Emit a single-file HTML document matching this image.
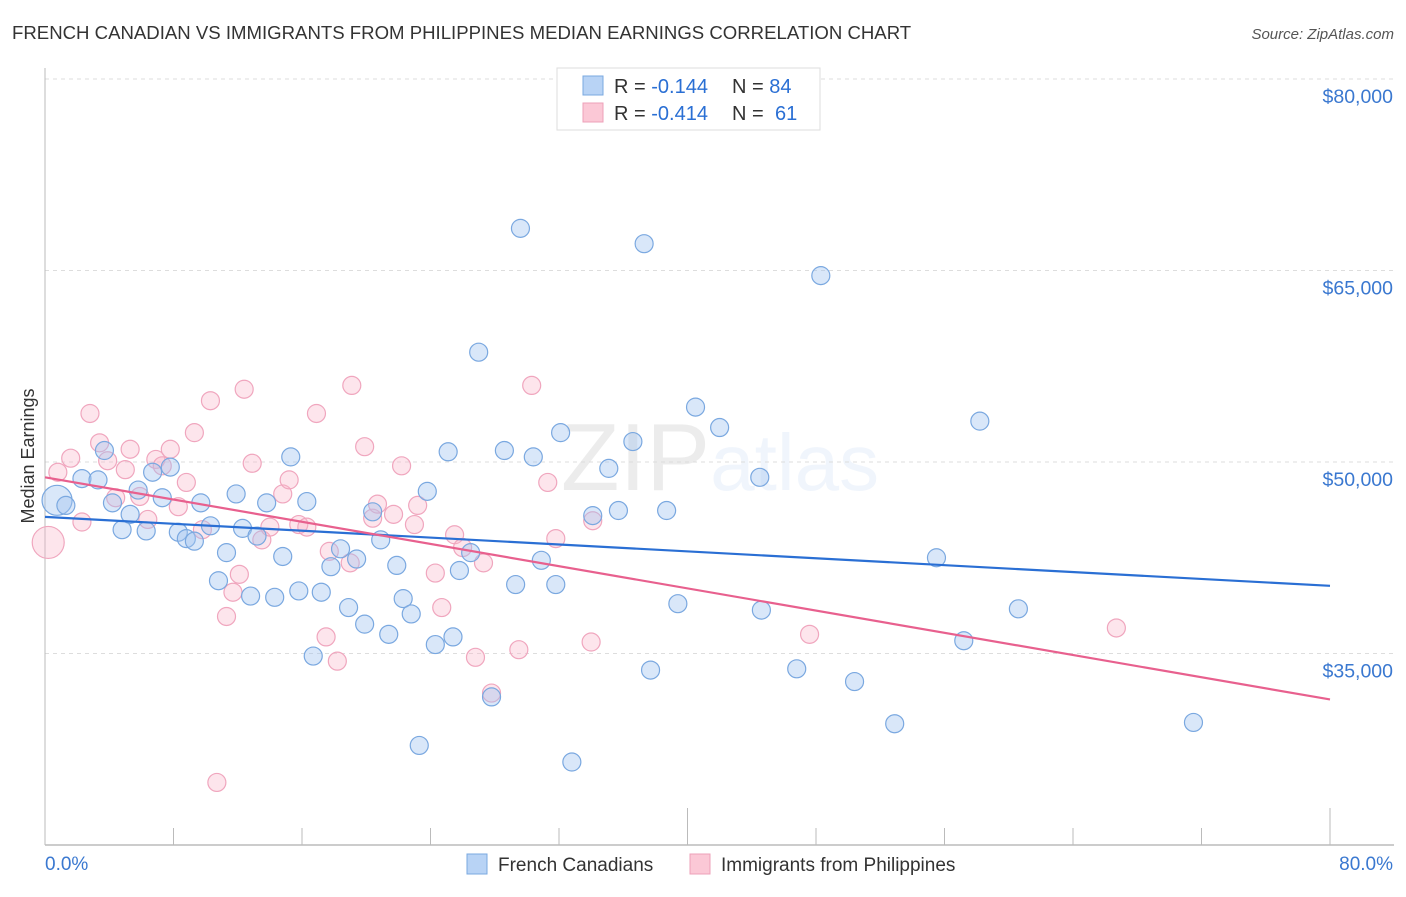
<!DOCTYPE html>
<html><head><meta charset="utf-8">
<style>
body{margin:0;background:#fff;font-family:"Liberation Sans",sans-serif;}
svg text{font-family:"Liberation Sans",sans-serif;}
</style></head>
<body>
<svg id="chart" width="1406" height="892" viewBox="0 0 1406 892">
<text x="12" y="39" font-size="18.6" fill="#333">FRENCH CANADIAN VS IMMIGRANTS FROM PHILIPPINES MEDIAN EARNINGS CORRELATION CHART</text>
<text x="1394" y="39" font-size="15" fill="#555" text-anchor="end" font-style="italic">Source: ZipAtlas.com</text>
<text x="720" y="490" font-size="96" fill="#000" opacity="0.07" text-anchor="middle" font-family="Liberation Serif"><tspan>ZIP</tspan><tspan fill="#2a6fd4" font-family="Liberation Sans" font-size="80" opacity="0.9">atlas</tspan></text>
<g id="grid"></g>
<g id="axes"></g>
<g id="pts"></g>
<g id="lines"></g>
<text transform="translate(34,456) rotate(-90)" font-size="18" fill="#333" text-anchor="middle">Median Earnings</text>
<g>
<rect x="557" y="68" width="263" height="62" fill="#fff" stroke="#ddd"/>
<rect x="583" y="76" width="20" height="19" fill="#b8d3f5" stroke="#7aa8e0"/>
<rect x="583" y="103" width="20" height="19" fill="#fbc8d6" stroke="#eea0b8"/>
<text x="614" y="93" font-size="20" fill="#333">R = <tspan fill="#2a6fd4">-0.144</tspan><tspan x="732">N = </tspan><tspan fill="#2a6fd4">84</tspan></text>
<text x="614" y="120" font-size="20" fill="#333">R = <tspan fill="#2a6fd4">-0.414</tspan><tspan x="732">N = </tspan><tspan fill="#2a6fd4" x="775">61</tspan></text>
</g>
<g>
<rect x="467" y="854" width="20" height="20" fill="#b8d3f5" stroke="#7aa8e0"/>
<text x="498" y="871" font-size="19" fill="#333">French Canadians</text>
<rect x="690" y="854" width="20" height="20" fill="#fbc8d6" stroke="#eea0b8"/>
<text x="721" y="871" font-size="19" fill="#333">Immigrants from Philippines</text>
</g>
</svg>
<script>
const yTicks=[35000,50000,65000,80000];
const yTickLabels=["$35,000","$50,000","$65,000","$80,000"];
const xTicks=[0,8,16,24,32,40,48,56,64,72,80];
const blueX=[0.75,1.3,2.3,3.3,3.7,4.2,4.8,5.3,5.8,6.3,6.7,7.3,7.8,8.3,8.8,9.3,9.7,10.3,10.8,11.3,11.9,12.3,12.8,13.2,13.8,14.3,14.8,15.3,15.8,16.3,16.7,17.2,17.8,18.4,18.9,19.4,19.9,20.4,20.9,21.4,21.9,22.3,22.8,23.3,23.8,24.3,25.1,25.4,25.8,26.5,27.0,27.8,28.6,29.3,29.6,30.4,30.9,31.8,32.1,32.8,34.1,35.1,35.7,36.6,37.3,37.7,38.7,39.4,40.5,42.0,44.5,44.6,46.8,48.3,50.4,52.9,55.5,57.2,58.2,60.6,71.5];
const blueY=[47.0,46.6,48.7,48.6,50.9,46.8,44.7,45.9,47.8,44.6,49.2,47.2,49.6,44.5,44.0,43.8,46.8,45.0,40.7,42.9,47.5,44.8,39.5,44.2,46.8,39.4,42.6,50.4,39.9,46.9,34.8,39.8,41.8,43.2,38.6,42.4,37.3,46.1,43.9,36.5,41.9,39.3,38.1,27.8,47.7,35.7,50.8,36.3,41.5,42.9,58.6,31.6,50.9,40.4,68.3,50.4,42.3,40.4,52.3,26.5,45.8,49.5,46.2,51.6,67.1,33.7,46.2,38.9,54.3,52.7,48.8,38.4,33.8,64.6,32.8,29.5,42.5,36.0,53.2,38.5,29.6];
const pinkX=[0.2,0.8,1.6,2.3,2.8,3.4,3.9,4.4,5.0,5.3,5.9,6.4,6.9,7.3,7.8,8.3,8.8,9.3,9.8,10.3,10.7,11.3,11.7,12.1,12.4,12.9,13.5,14.0,14.8,15.2,15.8,16.3,16.9,17.5,17.7,18.2,19.0,19.1,19.9,20.4,20.7,21.7,22.2,23.0,23.2,24.3,24.7,25.5,26.0,26.8,27.3,27.8,29.5,30.3,31.3,31.8,34.0,34.1,47.6,66.7];
const pinkY=[43.7,49.2,50.3,45.3,53.8,51.5,50.1,47.2,49.4,51.0,47.3,45.5,50.2,49.7,51.0,46.5,48.4,52.3,44.7,54.8,24.9,37.9,39.8,41.2,55.7,49.9,43.9,44.9,47.5,48.6,45.1,44.9,53.8,36.3,43.0,34.4,42.1,56.0,51.2,45.6,46.7,45.9,49.7,45.1,46.6,41.3,38.6,44.3,43.3,34.7,42.1,31.9,35.3,56.0,48.4,44.0,35.9,45.4,36.5,37.0];
const blueTrend=[45.7,40.3];
const pinkTrend=[48.8,31.4];
const NS="http://www.w3.org/2000/svg";
const X=v=>45+v/80*1285;
const Y=v=>462-(v-50000)*191.5/15000;
const Yk=v=>Y(v*1000);
function mk(tag,attrs,parent){const e=document.createElementNS(NS,tag);for(const k in attrs)e.setAttribute(k,attrs[k]);document.getElementById(parent).appendChild(e);return e;}
yTicks.forEach((t,i)=>{
 const g=mk('line',{x1:45,x2:1394,y1:Y(t),y2:Y(t),stroke:'#ddd','stroke-dasharray':'4,4'},'grid');
 
 
 const l=mk('text',{x:1393,y:Y(t)+24,'font-size':19.5,fill:'#3a78d0','text-anchor':'end'},'axes');
 l.textContent=yTickLabels[i];
 
 
});
const ax=mk('line',{x1:45,x2:45,y1:68,y2:845,stroke:'#bbb'},'axes');


const bx=mk('line',{x1:45,x2:1394,y1:845,y2:845,stroke:'#bbb','stroke-width':1.5},'axes');


xTicks.forEach((t,i)=>{
 const tall=(t===40||t===80);
 const k=mk('line',{x1:X(t),x2:X(t),y1:tall?808:828,y2:845,stroke:'#bbb'},'axes');
 
 
});
const xl0=mk('text',{x:45,y:870,'font-size':19,fill:'#3a78d0'},'axes');xl0.textContent='0.0%';


const xl1=mk('text',{x:1393,y:870,'font-size':19,fill:'#3a78d0','text-anchor':'end'},'axes');xl1.textContent='80.0%';


pinkX.forEach((v,i)=>{
 const c=mk('circle',{cx:X(v),cy:Yk(pinkY[i]),r:i===0?16:9,fill:'rgba(248,180,200,0.35)',stroke:'#f0a6be','stroke-width':1.2},'pts');
 
 
});
blueX.forEach((v,i)=>{
 const c=mk('circle',{cx:X(v),cy:Yk(blueY[i]),r:i===0?15:9,fill:'rgba(160,196,240,0.4)',stroke:'#7aa8e0','stroke-width':1.2},'pts');
 
 
});
const bl=mk('line',{x1:X(0),x2:X(80),y1:Yk(blueTrend[0]),y2:Yk(blueTrend[1]),stroke:'#2a6fd4','stroke-width':2.2},'lines');


const pl=mk('line',{x1:X(0),x2:X(80),y1:Yk(pinkTrend[0]),y2:Yk(pinkTrend[1]),stroke:'#e8608e','stroke-width':2.2},'lines');


</script>
</body></html>
